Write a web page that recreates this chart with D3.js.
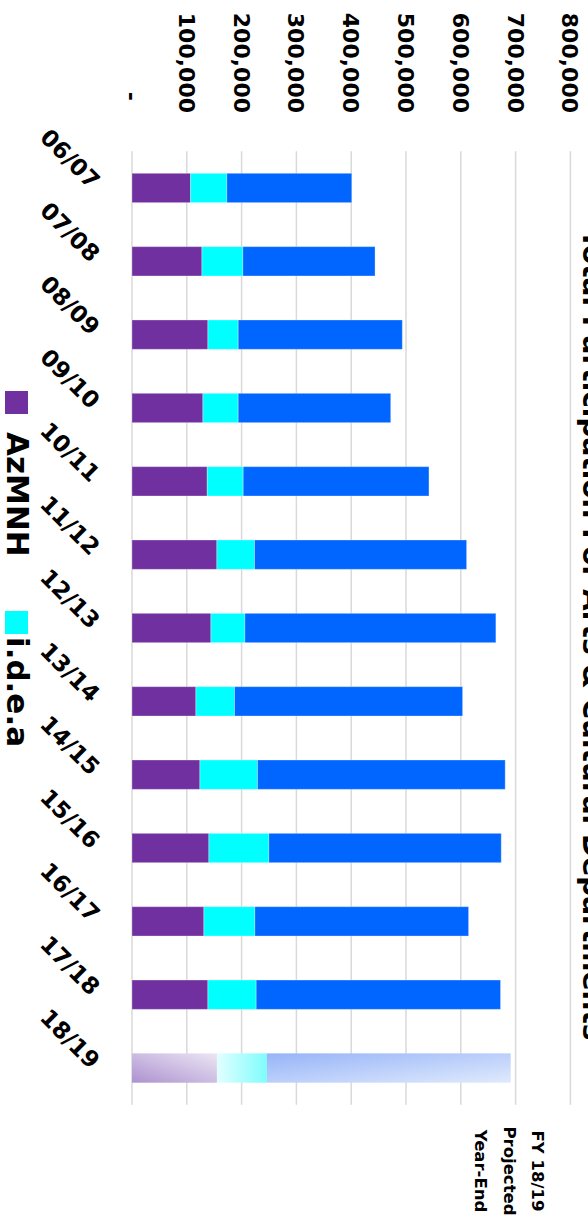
<!DOCTYPE html>
<html>
<head>
<meta charset="utf-8">
<script src="https://cdn.jsdelivr.net/npm/d3@7"></script>
<style>
  html, body { margin: 0; padding: 0; background: #fff; }
  svg { display: block; }
  text { font-family: "DejaVu Sans", Verdana, sans-serif; font-weight: bold; fill: #000; }
</style>
</head>
<body>
<svg id="chart" width="588" height="1226"></svg>
<script>
// ---- data ----
const categories = ["06/07","07/08","08/09","09/10","10/11","11/12","12/13","13/14","14/15","15/16","16/17","17/18","18/19"];
const azmnhValues = [106900,127600,138500,129400,137300,154900,144000,116600,123900,140300,131200,138500,155000];
const ideaValues  = [66200,74700,55300,64400,65600,68700,62000,70500,105100,109400,93000,88100,91200];
const otherValues = [227900,241200,299500,278300,339000,387000,458000,416200,452000,424100,390000,445900,444900];
const seriesNames = ["AzMNH","i.d.e.a","Other"];
const legendNames = ["AzMNH","i.d.e.a"];
const tickValues = [0,100000,200000,300000,400000,500000,600000,700000,800000];
const projectedCategory = "18/19";
const titleText = "Total Participation For Arts & Cultural Departments";
const noteLines = ["FY 18/19","Projected","Year-End"];

// ---- layout (original, unrotated chart is 1226 x 588) ----
const W = 1226, H = 588;
const svg = d3.select("#chart");
const g = svg.append("g").attr("transform", `translate(${H},0) rotate(90)`);

const colors = ["#7030a0", "#00ffff", "#0066ff"];

const defs = svg.append("defs");
function grad(id, x1, y1, x2, y2, c1, c2) {
  const lg = defs.append("linearGradient").attr("id", id)
    .attr("x1", x1).attr("y1", y1).attr("x2", x2).attr("y2", y2);
  lg.append("stop").attr("offset", "0%").attr("stop-color", c1);
  lg.append("stop").attr("offset", "100%").attr("stop-color", c2);
}
grad("gP", 0, 0, 1, 1, "#ebe6f4", "#ad92cf");
grad("gC", 0, 1, 0, 0, "#e2ffff", "#7ffcfc");
grad("gB", 0, 1, 1, 0, "#96b4f7", "#e0eafd");
const projFills = ["url(#gP)", "url(#gC)", "url(#gB)"];

const x = d3.scaleBand().domain(categories).range([151.3, 1104.7])
  .paddingInner(0.6).paddingOuter(0.3);
const y = d3.scaleLinear().domain([0, 800000]).range([456, 17.6]);

// gridlines
g.append("g").selectAll("line").data(tickValues).join("line")
  .attr("x1", 151.3).attr("x2", 1104.7)
  .attr("y1", d => y(d)).attr("y2", d => y(d))
  .attr("stroke", "#d9d9d9").attr("stroke-width", 1.5);

// value axis labels
const fmt = d3.format(",");
g.append("g").selectAll("text").data(tickValues).join("text")
  .attr("x", d => d === 0 ? 101 : 113)
  .attr("y", d => y(d))
  .attr("dy", "0.36em")
  .attr("text-anchor", "end")
  .style("font-size", "22px")
  .text(d => d === 0 ? "-" : fmt(d));

// stacked bars
const rows = categories.map((c, i) => ({ cat: c, AzMNH: azmnhValues[i], "i.d.e.a": ideaValues[i], Other: otherValues[i] }));
const stack = d3.stack().keys(seriesNames)(rows);
stack.forEach((layer, si) => {
  g.append("g").selectAll("rect").data(layer).join("rect")
    .attr("x", d => x(d.data.cat))
    .attr("width", x.bandwidth())
    .attr("y", d => y(d[1]))
    .attr("height", d => y(d[0]) - y(d[1]))
    .attr("fill", d => d.data.cat === projectedCategory ? projFills[si] : colors[si])
    .attr("stroke", d => d.data.cat === projectedCategory ? "none" : "rgba(255,255,255,0.3)")
    .attr("stroke-width", 1);
});

// category labels
g.append("g").selectAll("text").data(categories).join("text")
  .attr("transform", d => `translate(${x(d) + x.bandwidth() / 2 + 2},498) rotate(-45)`)
  .attr("text-anchor", "end")
  .style("font-size", "23px")
  .text(d => d);

// title (partly clipped at top, as in the reference)
g.append("text")
  .attr("x", 635).attr("y", 5)
  .attr("text-anchor", "middle")
  .style("font-size", "28px")
  .text(titleText);

// projected note
const noteY = [56, 84.5, 113];
g.append("g").selectAll("text").data(noteLines).join("text")
  .attr("x", 1171).attr("y", (d, i) => noteY[i])
  .attr("text-anchor", "middle")
  .style("font-size", "16.5px")
  .text(d => d);

// legend
const legendX = [391, 611];
const legendTextX = [432, 637];
const lg = g.append("g");
lg.selectAll("rect").data(legendNames).join("rect")
  .attr("x", (d, i) => legendX[i]).attr("y", 560)
  .attr("width", 23).attr("height", 23)
  .attr("fill", (d, i) => colors[i]);
lg.selectAll("text").data(legendNames).join("text")
  .attr("x", (d, i) => legendTextX[i]).attr("y", 581)
  .style("font-size", "31px")
  .text(d => d);
</script>
</body>
</html>
